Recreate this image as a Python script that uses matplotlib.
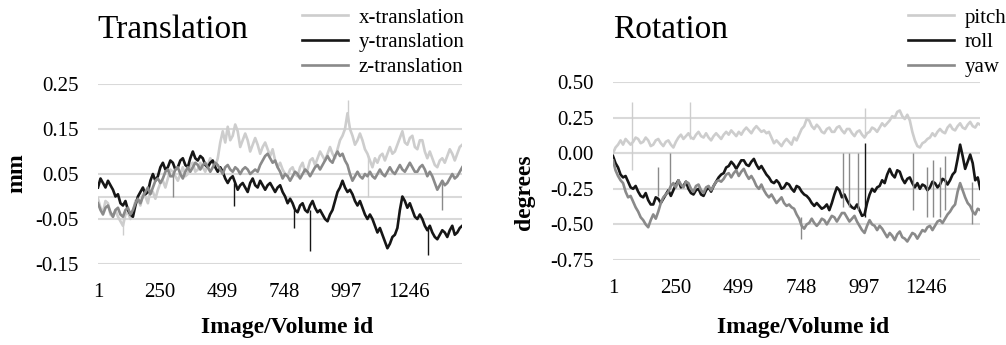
"""Head motion parameters: translation (mm) and rotation (degrees) per volume."""

import numpy as np
import matplotlib
matplotlib.use("Agg")
import matplotlib.pyplot as plt

plt.rcParams["font.family"] = ["Liberation Serif", "DejaVu Serif"]

# volume ids are sampled every 10 volumes, starting at 1
STEP = 10
x_ticks = [1, 250, 499, 748, 997, 1246]

# --- translation (mm) ---
x_translation = [
    -0.005, -0.025, -0.035, -0.01, -0.015, -0.04, -0.045, -0.03, -0.045, -0.055,
    -0.065, -0.04, -0.035, -0.05, -0.035, -0.01, -0.005, -0.02, 0.005, 0.0,
    -0.015, 0.015, 0.01, -0.005, 0.015, 0.03, 0.035, 0.02, 0.04, 0.06,
    0.055, 0.045, 0.035, 0.05, 0.065, 0.045, 0.05, 0.07, 0.075, 0.055,
    0.06, 0.075, 0.065, 0.055, 0.07, 0.085, 0.075, 0.065, 0.085, 0.12,
    0.145, 0.12, 0.155, 0.125, 0.135, 0.16, 0.145, 0.11, 0.125, 0.14,
    0.125, 0.1, 0.115, 0.13, 0.115, 0.095, 0.11, 0.12, 0.105, 0.09,
    0.105, 0.08, 0.065, 0.075, 0.06, 0.05, 0.045, 0.06, 0.065, 0.05,
    0.045, 0.065, 0.075, 0.055, 0.06, 0.08, 0.085, 0.07, 0.085, 0.1,
    0.09, 0.08, 0.095, 0.11, 0.095, 0.085, 0.105, 0.125, 0.135, 0.15,
    0.185, 0.15, 0.135, 0.115, 0.125, 0.14, 0.125, 0.105, 0.095, 0.08,
    0.065, 0.085, 0.075, 0.09, 0.095, 0.08, 0.095, 0.11, 0.095, 0.1,
    0.115, 0.13, 0.145, 0.12, 0.115, 0.13, 0.135, 0.11, 0.105, 0.125,
    0.125, 0.1, 0.085, 0.1, 0.085, 0.07, 0.065, 0.08, 0.085, 0.075,
    0.09, 0.105, 0.095, 0.08, 0.095, 0.11, 0.115,
]
y_translation = [
    0.02, 0.04, 0.03, 0.02, 0.035, 0.025, 0.015, 0.0, 0.005, -0.015,
    -0.02, -0.01, -0.03, -0.04, -0.045, -0.02, 0.0, 0.01, 0.02, 0.005,
    0.01, 0.035, 0.05, 0.035, 0.045, 0.065, 0.075, 0.06, 0.065, 0.08,
    0.075, 0.06, 0.065, 0.08, 0.085, 0.07, 0.065, 0.085, 0.1, 0.085,
    0.08, 0.09, 0.085, 0.07, 0.065, 0.075, 0.08, 0.065, 0.055, 0.065,
    0.055, 0.04, 0.03, 0.04, 0.045, 0.03, 0.015, 0.025, 0.03, 0.02,
    0.01, 0.03, 0.04, 0.025, 0.02, 0.035, 0.025, 0.015, 0.025, 0.03,
    0.02, 0.01, 0.02, 0.025, 0.01, 0.0, -0.015, -0.005, -0.015, -0.03,
    -0.035, -0.02, -0.015, -0.03, -0.035, -0.02, -0.01, -0.025, -0.035, -0.03,
    -0.04, -0.05, -0.055, -0.04, -0.03, -0.01, 0.01, 0.02, 0.035, 0.02,
    0.01, 0.015, 0.005, -0.01, -0.02, -0.01, -0.025, -0.04, -0.05, -0.04,
    -0.05, -0.065, -0.08, -0.07, -0.085, -0.1, -0.115, -0.105, -0.09, -0.085,
    -0.07, -0.03, 0.0, -0.01, -0.025, -0.015, -0.03, -0.045, -0.05, -0.04,
    -0.05, -0.065, -0.075, -0.065, -0.08, -0.09, -0.095, -0.085, -0.075, -0.08,
    -0.09, -0.075, -0.065, -0.085, -0.08, -0.07, -0.065,
]
z_translation = [
    -0.015, -0.03, -0.04, -0.025, -0.02, -0.035, -0.045, -0.03, -0.025, -0.04,
    -0.045, -0.03, -0.025, -0.04, -0.03, -0.015, -0.005, -0.015, 0.0, 0.01,
    0.02, 0.005, 0.02, 0.035, 0.04, 0.03, 0.04, 0.055, 0.06, 0.045,
    0.045, 0.06, 0.065, 0.05, 0.04, 0.055, 0.065, 0.055, 0.065, 0.075,
    0.07, 0.06, 0.07, 0.075, 0.065, 0.055, 0.065, 0.075, 0.07, 0.06,
    0.05, 0.065, 0.07, 0.06, 0.055, 0.065, 0.06, 0.05, 0.06, 0.065,
    0.06, 0.05, 0.055, 0.06, 0.055, 0.07, 0.08, 0.09, 0.095, 0.085,
    0.075, 0.08, 0.065, 0.055, 0.04, 0.05, 0.045, 0.035, 0.045, 0.055,
    0.05, 0.04, 0.05, 0.06, 0.055, 0.045, 0.055, 0.065, 0.07, 0.06,
    0.07, 0.08, 0.09, 0.08, 0.075, 0.09, 0.1, 0.09, 0.095, 0.08,
    0.07, 0.05, 0.035, 0.045, 0.055, 0.045, 0.04, 0.05, 0.045, 0.055,
    0.045, 0.04, 0.05, 0.06, 0.05, 0.045, 0.055, 0.065, 0.055, 0.05,
    0.06, 0.07, 0.06, 0.055, 0.065, 0.075, 0.065, 0.055, 0.055, 0.065,
    0.07, 0.06, 0.045, 0.055, 0.045, 0.03, 0.015, 0.025, 0.035, 0.025,
    0.03, 0.04, 0.05, 0.04, 0.045, 0.055, 0.065,
]

# single-volume spikes: (volume, from, to)
x_translation_spikes = [(101, -0.05, -0.085), (1003, 0.17, 0.215), (1085, 0.09, 0.0)]
y_translation_spikes = [(545, 0.03, -0.022), (785, -0.03, -0.07),
                        (851, -0.03, -0.12), (1324, -0.07, -0.13)]
z_translation_spikes = [(302, 0.05, 0.0), (1380, 0.03, -0.03)]

# --- rotation (degrees) ---
pitch = [
    0.0, 0.04, 0.06, 0.09, 0.06, 0.1, 0.08, 0.06, 0.08, 0.11,
    0.1, 0.07, 0.08, 0.11, 0.09, 0.05, 0.06, 0.09, 0.1, 0.07,
    0.05, 0.08, 0.09, 0.06, 0.04, 0.08, 0.11, 0.13, 0.1, 0.12,
    0.14, 0.11, 0.1, 0.13, 0.15, 0.12, 0.11, 0.14, 0.11, 0.09,
    0.12, 0.14, 0.12, 0.1, 0.13, 0.15, 0.13, 0.16, 0.14, 0.12,
    0.15, 0.13, 0.16, 0.18, 0.16, 0.14, 0.17, 0.19, 0.17, 0.15,
    0.16, 0.14, 0.15, 0.11, 0.07, 0.09, 0.07, 0.05, 0.08, 0.1,
    0.08, 0.06, 0.11, 0.09, 0.13, 0.17, 0.19, 0.24, 0.23, 0.19,
    0.17, 0.2, 0.18, 0.15, 0.14, 0.17, 0.18, 0.15, 0.15, 0.18,
    0.19, 0.16, 0.14, 0.17, 0.17, 0.14, 0.12, 0.15, 0.16, 0.13,
    0.11, 0.14, 0.15, 0.18, 0.17, 0.15, 0.18, 0.21, 0.19, 0.21,
    0.23, 0.26, 0.25, 0.29, 0.3, 0.26, 0.24, 0.27, 0.23, 0.15,
    0.09, 0.05, 0.04, 0.07, 0.08, 0.1, 0.11, 0.14, 0.12, 0.15,
    0.17, 0.15, 0.14, 0.18, 0.2, 0.17, 0.16, 0.19, 0.21, 0.18,
    0.17, 0.2, 0.22, 0.19, 0.18, 0.21, 0.2,
]
roll = [
    -0.02, -0.07, -0.1, -0.15, -0.17, -0.16, -0.2, -0.24, -0.25, -0.23,
    -0.27, -0.3, -0.31, -0.28, -0.33, -0.36, -0.36, -0.31, -0.32, -0.35,
    -0.32, -0.29, -0.26, -0.3, -0.26, -0.22, -0.19, -0.24, -0.23, -0.2,
    -0.25, -0.28, -0.29, -0.26, -0.25, -0.29, -0.3, -0.26, -0.24, -0.27,
    -0.23, -0.2, -0.17, -0.15, -0.14, -0.1, -0.09, -0.06, -0.08, -0.11,
    -0.08, -0.05, -0.05, -0.08, -0.09, -0.06, -0.04, -0.08, -0.11, -0.09,
    -0.12, -0.15, -0.17, -0.2, -0.21, -0.19, -0.21, -0.25, -0.24, -0.21,
    -0.22, -0.25, -0.27, -0.23, -0.24, -0.27, -0.29, -0.3, -0.32, -0.35,
    -0.37, -0.35, -0.37, -0.39, -0.38, -0.36, -0.4, -0.35, -0.29, -0.24,
    -0.26, -0.31, -0.29, -0.33, -0.36, -0.38, -0.39, -0.36, -0.4, -0.44,
    -0.43, -0.35, -0.29, -0.25, -0.27, -0.24, -0.23, -0.19, -0.21, -0.15,
    -0.11, -0.15, -0.17, -0.12, -0.13, -0.18, -0.21, -0.18, -0.17, -0.21,
    -0.24, -0.21, -0.25, -0.22, -0.23, -0.26, -0.24, -0.2, -0.21, -0.24,
    -0.22, -0.18, -0.19, -0.22, -0.19, -0.15, -0.13, -0.04, 0.06, -0.02,
    -0.11, -0.06, -0.01, -0.07, -0.19, -0.17, -0.25,
]
yaw = [
    -0.05, -0.12, -0.16, -0.19, -0.21, -0.27, -0.31, -0.3, -0.34, -0.38,
    -0.41, -0.45, -0.47, -0.5, -0.52, -0.47, -0.43, -0.46, -0.41, -0.35,
    -0.31, -0.29, -0.27, -0.23, -0.21, -0.24, -0.19, -0.22, -0.24, -0.2,
    -0.21, -0.25, -0.27, -0.23, -0.22, -0.26, -0.28, -0.24, -0.23, -0.26,
    -0.23, -0.2, -0.19, -0.2, -0.18, -0.15, -0.14, -0.17, -0.14, -0.12,
    -0.16, -0.13, -0.11, -0.15, -0.18, -0.16, -0.19, -0.23, -0.25, -0.22,
    -0.26, -0.29, -0.31, -0.29, -0.32, -0.35, -0.33, -0.31, -0.35, -0.37,
    -0.36, -0.38, -0.39, -0.43, -0.46, -0.51, -0.53, -0.5, -0.49, -0.46,
    -0.49, -0.51, -0.49, -0.46, -0.47, -0.5, -0.47, -0.44, -0.45, -0.48,
    -0.45, -0.42, -0.42, -0.45, -0.48, -0.46, -0.44, -0.48, -0.51, -0.54,
    -0.56, -0.51, -0.47, -0.5, -0.51, -0.54, -0.51, -0.53, -0.56, -0.59,
    -0.56, -0.58, -0.61, -0.57, -0.55, -0.59, -0.6, -0.62, -0.59, -0.56,
    -0.57, -0.6, -0.57, -0.54, -0.55, -0.52, -0.51, -0.54, -0.51, -0.48,
    -0.47, -0.49, -0.46, -0.43, -0.41, -0.38, -0.36, -0.27, -0.21, -0.26,
    -0.31, -0.35, -0.37, -0.41, -0.43, -0.39, -0.4,
]

pitch_spikes = [(75, -0.12, 0.36), (307, 0.1, 0.36), (1001, 0.13, 0.32)]
roll_spikes = [(1003, -0.45, 0.07)]
yaw_spikes = [(180, -0.3, -0.1), (228, -0.25, 0.0), (750, -0.45, -0.6),
              (917, -0.38, 0.0), (940, -0.38, 0.0), (975, -0.4, 0.0),
              (1195, -0.4, 0.0), (1250, -0.45, -0.1), (1275, -0.45, -0.05),
              (1300, -0.45, -0.1), (1320, -0.4, -0.02), (1430, -0.5, -0.2)]

LIGHT = "#cdcdcd"
MID = "#8a8a8a"
DARK = "#161616"
GRID = "#d9d9d9"


def draw_panel(ax, series, yticks, ylim):
    for values, spikes, color, label in series:
        vols = 1 + STEP * np.arange(len(values))
        ax.plot(vols, values, color=color, lw=1.9, label=label)
        for vol, lo, hi in spikes:
            ax.vlines(vol, lo, hi, color=color, lw=1.0)
    ax.set_xlim(1, 1460)
    ax.set_ylim(*ylim)
    ax.set_yticks(yticks)
    ax.set_xticks(x_ticks)
    for t in yticks:
        ax.axhline(t, color=GRID, lw=1.5, zorder=0)
    ax.axhline(0, color=GRID, lw=1.5, zorder=0)
    for sp in ax.spines.values():
        sp.set_visible(False)
    ax.tick_params(length=0, labelsize=15)
    ax.tick_params(axis="x", pad=14)
    ax.tick_params(axis="y", pad=14)


fig = plt.figure(figsize=(10.06, 3.45), dpi=100)

ax1 = fig.add_axes([98 / 1006, 1 - 264 / 345, 364 / 1006, 180 / 345])
draw_panel(
    ax1,
    [(x_translation, x_translation_spikes, LIGHT, "x-translation"),
     (y_translation, y_translation_spikes, DARK, "y-translation"),
     (z_translation, z_translation_spikes, MID, "z-translation")],
    [-0.15, -0.05, 0.05, 0.15, 0.25], (-0.15, 0.25),
)
ax1.set_yticklabels(["-0.15", "-0.05", "0.05", "0.15", "0.25"])

ax2 = fig.add_axes([613 / 1006, 1 - 260 / 345, 367 / 1006, 178 / 345])
draw_panel(
    ax2,
    [(pitch, pitch_spikes, LIGHT, "pitch"),
     (roll, roll_spikes, DARK, "roll"),
     (yaw, yaw_spikes, MID, "yaw")],
    [-0.75, -0.5, -0.25, 0.0, 0.25, 0.5], (-0.75, 0.5),
)
ax2.set_yticklabels(["-0.75", "-0.50", "-0.25", "0.00", "0.25", "0.50"])

# titles, axis labels and legends placed like the original figure
fig.text(97 / 1006, 1 - 38 / 345, "Translation", fontsize=24, va="baseline")
fig.text(613 / 1006, 1 - 38 / 345, "Rotation", fontsize=24, va="baseline")
fig.text(17 / 1006, 1 - 173 / 345, "mm", fontsize=17, fontweight="bold",
         rotation=90, ha="center", va="center")
fig.text(525 / 1006, 1 - 192 / 345, "degrees", fontsize=17, fontweight="bold",
         rotation=90, ha="center", va="center")
fig.text(287 / 1006, 1 - 328 / 345, "Image/Volume id", fontsize=17,
         fontweight="bold", ha="center", va="center")
fig.text(803 / 1006, 1 - 328 / 345, "Image/Volume id", fontsize=17,
         fontweight="bold", ha="center", va="center")

for ax, anchor in ((ax1, (300 / 1006, 1 - 6 / 345)), (ax2, (906 / 1006, 1 - 6 / 345))):
    h, l = ax.get_legend_handles_labels()
    fig.legend(h, l, loc="upper left", bbox_to_anchor=anchor, frameon=False,
               fontsize=15, handlelength=2.2, handletextpad=0.5,
               labelspacing=0.25, borderpad=0.1, borderaxespad=0)

fig.savefig("out.png", dpi=100)
